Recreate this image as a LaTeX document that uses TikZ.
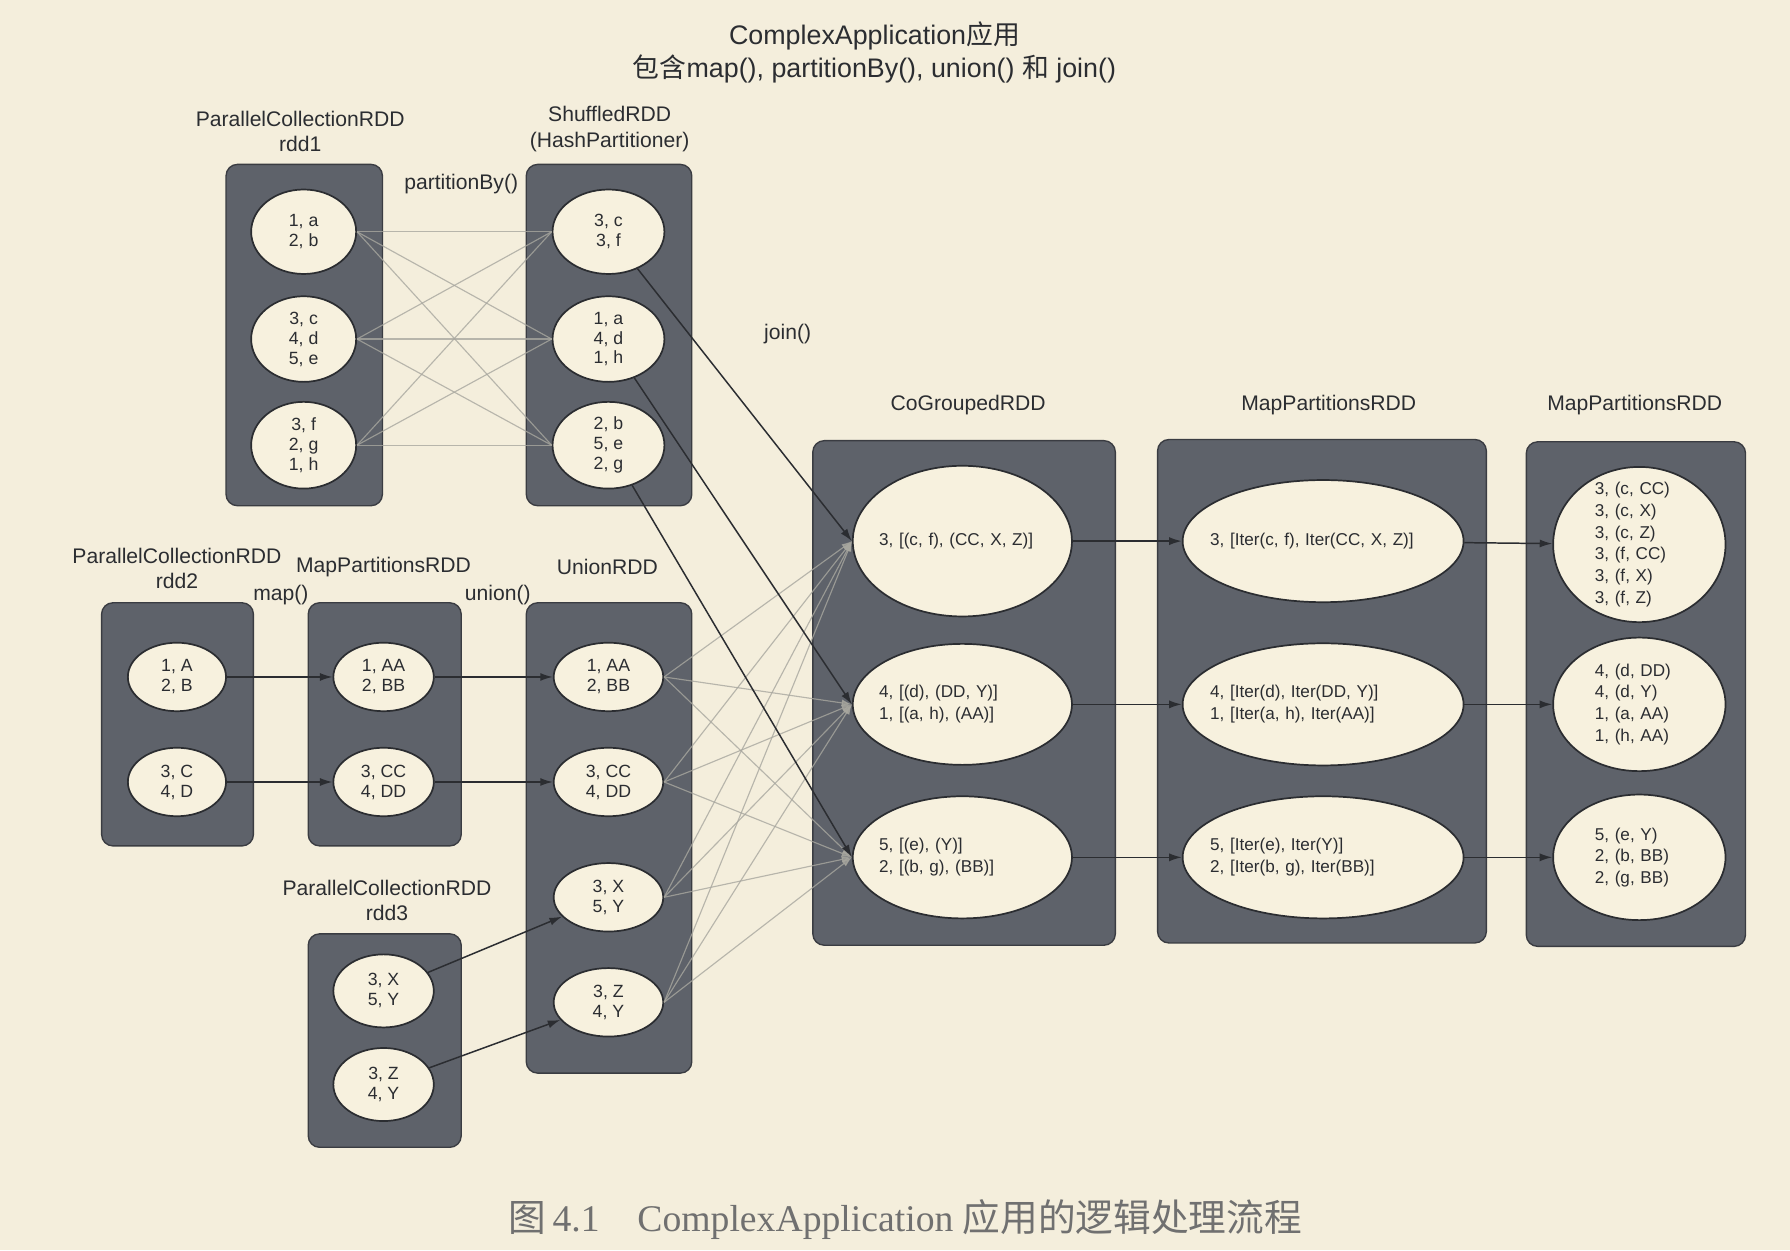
\documentclass[tikz,border=0pt]{standalone}
\usepackage{fontspec}
\setmainfont{Liberation Sans}
\newfontfamily\cjk{Noto Sans CJK SC}
\newfontfamily\capfont{Liberation Serif}
\usetikzlibrary{arrows.meta,shapes.geometric}
\definecolor{paper}{HTML}{F4EEDC}
\definecolor{boxfill}{HTML}{5E626A}
\definecolor{boxline}{HTML}{3A3C42}
\definecolor{partfill}{HTML}{F7F1DE}
\definecolor{ink}{HTML}{2B2D31}
\definecolor{shufline}{HTML}{A8A79F}
\definecolor{capgray}{HTML}{707070}
\tikzset{
	rdd/.style={draw=boxline, line width=1.2pt, fill=boxfill, rounded corners=10pt},
	part/.style={ellipse, draw=ink, line width=1.5pt, fill=partfill, inner sep=-12pt,
		font=\fontsize{15.5}{17.5}\selectfont, align=center, text=ink},
	bigpart/.style={part, font=\fontsize{15}{19}\selectfont, align=left},
	rddname/.style={font=\fontsize{18.5}{22}\selectfont, align=center, text=ink},
	dep/.style={draw=ink, line width=1.3pt, -{Latex[length=11pt,width=7pt]}},
	shuffle/.style={draw=shufline, line width=1pt, opacity=0.8},
}
\begin{document}
\begin{tikzpicture}[x=1pt, y=-1pt]
	\fill[paper] (0,0) rectangle (1568,1095);
	\useasboundingbox (0,0) rectangle (1568,1095);
	
	\node[rddname, font=\fontsize{23.5}{29}\selectfont] (title) at (766,46) {ComplexApplication{\cjk 应用}\\{\cjk 包含}map(), partitionBy(), union() {\cjk 和} join()};
	
	% rdd boxes
	\draw[rdd] (198,144) rectangle (335,443);
	\draw[rdd] (461,144) rectangle (606,443);
	\draw[rdd] (89,528) rectangle (222,741);
	\draw[rdd] (270,528) rectangle (404,741);
	\draw[rdd] (461,528) rectangle (606,940);
	\draw[rdd] (270,818) rectangle (404,1005);
	\draw[rdd] (712,386) rectangle (977,828);
	\draw[rdd] (1014,385) rectangle (1302,826);
	\draw[rdd] (1337,387) rectangle (1529,829);
	
	% names
	\node[rddname] (rdd1name) at (263,115) {ParallelCollectionRDD\\rdd1};
	\node[rddname] (shufname) at (534,113) {ShuffledRDD\\(HashPartitioner)};
	\node[rddname] (rdd2name) at (155,498) {ParallelCollectionRDD\\rdd2};
	\node[rddname] (mapname) at (336,497) {MapPartitionsRDD};
	\node[rddname] (unionname) at (532,497) {UnionRDD};
	\node[rddname] (rdd3name) at (339,789) {ParallelCollectionRDD\\rdd3};
	\node[rddname] (cogname) at (848,355) {CoGroupedRDD};
	\node[rddname] (mapname2) at (1164,355) {MapPartitionsRDD};
	\node[rddname] (mapname3) at (1432,355) {MapPartitionsRDD};
	\node[rddname] (partby) at (404,161) {partitionBy()};
	\node[rddname] (join) at (690,293) {join()};
	\node[rddname] (map) at (246,521) {map()};
	\node[rddname] (union) at (436,521) {union()};
	
	% partitions
	\node[part, minimum width=92pt, minimum height=74pt] (a1) at (266,203) {1, a\\2, b};
	\node[part, minimum width=92pt, minimum height=75pt] (a2) at (266,297) {3, c\\4, d\\5, e};
	\node[part, minimum width=92pt, minimum height=76pt] (a3) at (266,390) {3, f\\2, g\\1, h};
	\node[part, minimum width=98pt, minimum height=74pt] (s1) at (533,203) {3, c\\3, f};
	\node[part, minimum width=98pt, minimum height=75pt] (s2) at (533,297) {1, a\\4, d\\1, h};
	\node[part, minimum width=98pt, minimum height=76pt] (s3) at (533,390) {2, b\\5, e\\2, g};
	
	\node[part, minimum width=86pt, minimum height=60pt] (b1) at (155,593) {1, A\\2, B};
	\node[part, minimum width=86pt, minimum height=60pt] (b2) at (155,685) {3, C\\4, D};
	\node[part, minimum width=88pt, minimum height=60pt] (e1) at (336,593) {1, AA\\2, BB};
	\node[part, minimum width=88pt, minimum height=60pt] (e2) at (336,685) {3, CC\\4, DD};
	\node[part, minimum width=96pt, minimum height=60pt] (u1) at (533,593) {1, AA\\2, BB};
	\node[part, minimum width=96pt, minimum height=60pt] (u2) at (533,685) {3, CC\\4, DD};
	\node[part, minimum width=96pt, minimum height=60pt] (u3) at (533,786) {3, X\\5, Y};
	\node[part, minimum width=96pt, minimum height=60pt] (u4) at (533,878) {3, Z\\4, Y};
	\node[part, minimum width=88pt, minimum height=64pt] (d1) at (336,868) {3, X\\5, Y};
	\node[part, minimum width=88pt, minimum height=64pt] (d2) at (336,950) {3, Z\\4, Y};
	
	\node[bigpart, text width=146pt, minimum width=192pt, minimum height=132pt] (c1) at (843,474) {3, [(c, f), (CC, X, Z)]};
	\node[bigpart, text width=146pt, minimum width=192pt, minimum height=106pt] (c2) at (843,617) {4, [(d), (DD, Y)]\\1, [(a, h), (AA)]};
	\node[bigpart, text width=146pt, minimum width=192pt, minimum height=107pt] (c3) at (843,751) {5, [(e), (Y)]\\2, [(b, g), (BB)]};
	\node[bigpart, text width=198pt, minimum width=238pt, minimum height=107pt] (m1) at (1159,474) {3, [Iter(c, f), Iter(CC, X, Z)]};
	\node[bigpart, text width=198pt, minimum width=238pt, minimum height=107pt] (m2) at (1159,617) {4, [Iter(d), Iter(DD, Y)]\\1, [Iter(a, h), Iter(AA)]};
	\node[bigpart, text width=198pt, minimum width=238pt, minimum height=107pt] (m3) at (1159,751) {5, [Iter(e), Iter(Y)]\\2, [Iter(b, g), Iter(BB)]};
	\node[bigpart, text width=78pt, minimum width=151pt, minimum height=136pt] (p1) at (1436,477) {3, (c, CC)\\3, (c, X)\\3, (c, Z)\\3, (f, CC)\\3, (f, X)\\3, (f, Z)};
	\node[bigpart, text width=78pt, minimum width=151pt, minimum height=117pt] (p2) at (1436,617) {4, (d, DD)\\4, (d, Y)\\1, (a, AA)\\1, (h, AA)};
	\node[bigpart, text width=78pt, minimum width=151pt, minimum height=110pt] (p3) at (1436,751) {5, (e, Y)\\2, (b, BB)\\2, (g, BB)};
	
	% dependencies
	\foreach \i in {1,2,3}
		\foreach \j in {1,2,3}
			\draw[shuffle] (a\i.east) -- (s\j.west);
	\foreach \i in {1,...,4}
		\foreach \j in {1,2,3}
			\draw[shuffle, -{Latex[length=9pt,width=6pt]}] (u\i.east) -- (c\j.west);
	\foreach \i in {1,2}{
		\draw[dep] (b\i) -- (e\i);
		\draw[dep] (e\i) -- (u\i);
	}
	\draw[dep] (d1) -- (u3);
	\draw[dep] (d2) -- (u4);
	\foreach \i in {1,2,3}{
		\draw[dep] (s\i) -- (c\i.west);
		\draw[dep] (c\i) -- (m\i);
		\draw[dep] (m\i) -- (p\i);
	}
	
	\node[font=\capfont\fontsize{33}{38}\selectfont, text=capgray] (caption) at (793,1068) {{\cjk 图}\,4.1\quad ComplexApplication {\cjk 应用的逻辑处理流程}};
\end{tikzpicture}
\end{document}
